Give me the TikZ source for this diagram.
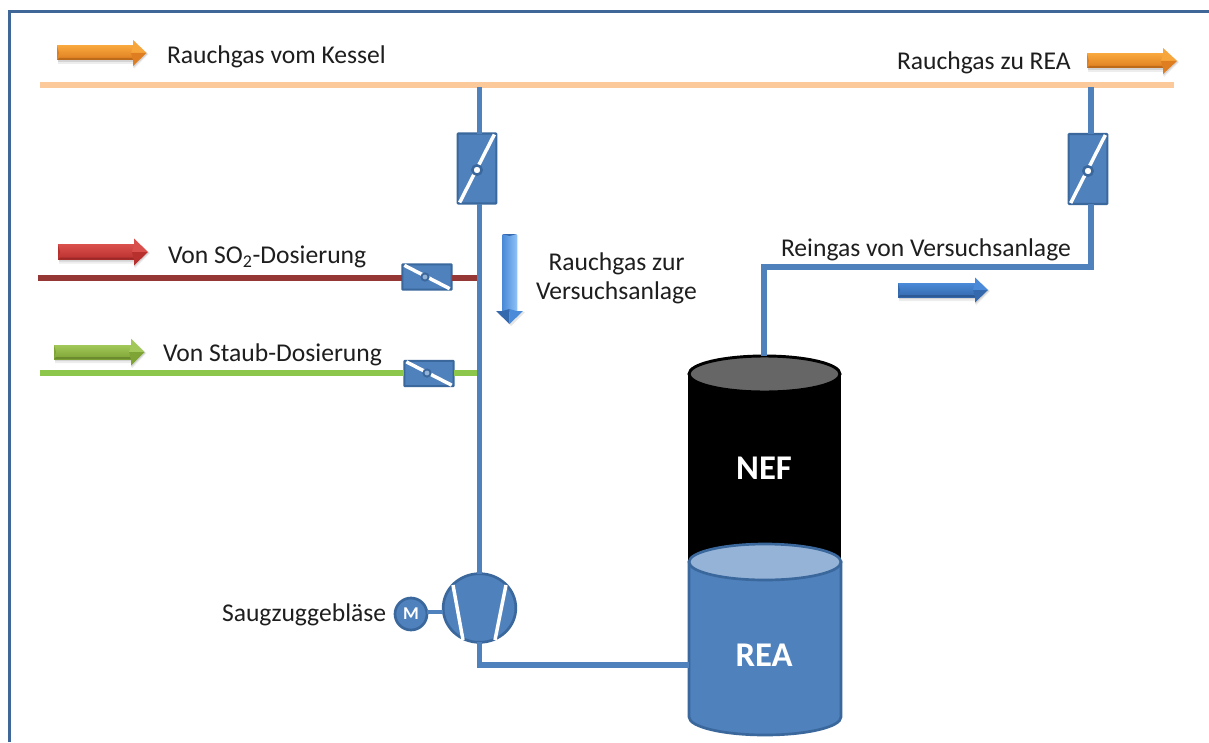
\documentclass[tikz,border=0pt]{standalone}
\usepackage{fontspec}
\setmainfont{Carlito}
\usetikzlibrary{shapes.geometric,calc}
\definecolor{pipeblue}{HTML}{4F81BD}
\definecolor{edgeblue}{HTML}{3A679C}
\definecolor{framecol}{HTML}{3F6797}
\definecolor{fluegas}{HTML}{FBC99A}
\definecolor{so2col}{HTML}{953735}
\definecolor{dustcol}{HTML}{8CC64A}
\definecolor{liqtop}{HTML}{95B3D7}
\definecolor{txt}{HTML}{1E1E1E}
\definecolor{orA}{HTML}{F7A63C}\definecolor{orB}{HTML}{FFCB66}\definecolor{orC}{HTML}{DE7E20}
\definecolor{reA}{HTML}{D94F4B}\definecolor{reB}{HTML}{F08A86}\definecolor{reC}{HTML}{B8302E}
\definecolor{grA}{HTML}{A3C85A}\definecolor{grB}{HTML}{D2EC92}\definecolor{grC}{HTML}{7EA436}
\definecolor{blA}{HTML}{4A8AD8}\definecolor{blB}{HTML}{8CC0F5}\definecolor{blC}{HTML}{3569AE}
\tikzset{
  pipe/.style={draw=pipeblue,line width=4.2pt,line join=miter},
  flueline/.style={draw=fluegas,line width=4.4pt},
  so2line/.style={draw=so2col,line width=4.1pt},
  dustline/.style={draw=dustcol,line width=4.1pt},
  damperbox/.style={draw=edgeblue,line width=1.6pt,fill=pipeblue,rounded corners=0.6pt,inner sep=0pt,outer sep=0pt},
  tallbox/.style={damperbox,minimum width=29pt,minimum height=52.5pt},
  widebox/.style={damperbox,minimum width=37pt,minimum height=19pt},
  flap/.style={draw=white,line width=2.6pt},
  pivot/.style={circle,draw=edgeblue,fill=white,line width=1.9pt,minimum size=7pt,inner sep=0pt},
  pivotsmall/.style={circle,draw=edgeblue,fill=pipeblue!60,line width=1.4pt,minimum size=5.4pt,inner sep=0pt},
  lbl/.style={text=txt,font=\fontsize{19.2}{21}\selectfont,inner sep=0pt,outer sep=0pt},
  biglbl/.style={text=white,font=\fontsize{26}{30}\selectfont\bfseries,inner sep=0pt},
  fanbody/.style={ellipse,draw=edgeblue,fill=pipeblue,line width=2pt,minimum width=54.5pt,minimum height=51.5pt,inner sep=0pt,outer sep=0pt},
  motorbody/.style={circle,draw=edgeblue,fill=pipeblue,line width=2pt,minimum size=24pt,inner sep=0pt,outer sep=0pt,text=white,font=\fontsize{13.5}{14}\selectfont\bfseries},
}
% #1 x-start, #2 x-head, #3 x-tip, #4 y-centre, #5 half shaft, #6 half head, #7 edge, #8 light, #9 dark
\newcommand{\bevelright}[9]{%
  \fill[black,opacity=.07] (#1+1,#4-#5+1) -- (#2+1,#4-#5+1) -- (#2+1,#4-#6+1) -- (#3+2,#4+1) -- (#2+1,#4+#6+3) -- (#2+1,#4+#5+4) -- (#1+1,#4+#5+4) -- cycle;
  \fill[black,opacity=.1] (#1+1,#4-#5+1) -- (#2,#4-#5+1) -- (#2,#4-#6+1) -- (#3+1,#4+1) -- (#2,#4+#6+2) -- (#2,#4+#5+2) -- (#1+1,#4+#5+2) -- cycle;
  \shade[top color=#7,middle color=#8,bottom color=#9] (#1,#4-#5) -- (#2,#4-#5) -- (#2,#4+#5) -- (#1,#4+#5) -- cycle;
  \fill[#7] (#2,#4-#6) -- (#3,#4) -- (#2-2,#4) -- (#2,#4-#5) -- cycle;
  \fill[#9] (#2,#4+#6) -- (#3,#4) -- (#2-2,#4) -- (#2,#4+#5) -- cycle;
  \fill[#9] (#1,#4-#5) -- (#1+2,#4) -- (#1,#4+#5) -- cycle;
  \fill[#9!85!black] (#1,#4+#5) -- (#1+2,#4+#5-2) -- (#2-1,#4+#5-2) -- (#2,#4+#5) -- cycle;
}
\begin{document}
\begin{tikzpicture}[x=0.75pt,y=-0.75pt]
\useasboundingbox (0,0) rectangle (1209,742);
\fill[white] (0,0) rectangle (1209,742);
% frame
\coordinate (frameA) at (9.5,742);
\coordinate (frameB) at (9.5,11.5);
\coordinate (frameC) at (1209,11.5);
\draw[framecol,line width=2.7pt] (frameA) -- (frameB) -- (frameC);

% flue gas main
\coordinate (flueW) at (40,85);
\coordinate (flueE) at (1174,85);
\draw[flueline] (flueW) -- (flueE);

% dampers
\node[tallbox] (dampA) at (477,168.5) {};
\node[tallbox] (dampB) at (1088,169) {};
\node[widebox] (dampC) at (427,277) {};
\node[widebox] (dampD) at (429,373.5) {};
\draw[flap] (dampA.south west) ++(2,-1) -- ($(dampA.north east)+(-2,1)$);
\draw[flap] (dampB.south west) ++(2,-1) -- ($(dampB.north east)+(-2,1)$);
\draw[flap] (dampC.north west) ++(2,1) -- ($(dampC.south east)+(-2,-1)$);
\draw[flap] (dampD.north west) ++(2,1) -- ($(dampD.south east)+(-2,-1)$);
\node[pivot] (pivA) at (477,170) {};
\node[pivot] (pivB) at (1088,171) {};
\node[pivotsmall] (pivC) at (425,277) {};
\node[pivotsmall] (pivD) at (427,373) {};

% fan and motor
\node[fanbody] (fan) at (479.5,608) {};
\draw[white,line width=2.6pt] (453,585) -- (463,640);
\draw[white,line width=2.6pt] (506,585) -- (495,640);
\node[motorbody] (motor) at (411,614) {M};

% vessels
\coordinate (nefTop) at (764,356);
\coordinate (reaSide) at (689,665);
\fill[black] (688,374) rectangle (841,562);
\draw[black,line width=2.2pt,fill=black!60] (764.5,374) ellipse[x radius=75.5,y radius=18];
\draw[edgeblue,line width=2pt,fill=pipeblue] (689,562) -- (689,717) arc[x radius=76,y radius=18,start angle=180,end angle=0] -- (841,562) -- cycle;
\draw[edgeblue,line width=2pt,fill=liqtop] (765,562) ellipse[x radius=76,y radius=18];
\node[biglbl] (nefLabel) at (764,468) {NEF};
\node[biglbl] (reaLabel) at (764,655) {REA};

% pipes
\coordinate (tapA) at (479.5,87);
\coordinate (tapB) at (1091,87);
\coordinate (elbowA) at (479.5,665);
\coordinate (elbowB) at (1091,267);
\coordinate (elbowC) at (764,267);
\coordinate (mergeC) at (479.5,278);
\coordinate (mergeD) at (479.5,373);
\coordinate (so2W) at (38,278);
\coordinate (dustW) at (40,373);
\draw[so2line] (so2W) -- (so2W -| dampC.west);
\draw[so2line] (so2W -| dampC.east) -- (mergeC);
\draw[dustline] (dustW) -- (dustW -| dampD.west);
\draw[dustline] (dustW -| dampD.east) -- (mergeD);
\draw[pipe] (tapA) -- (tapA |- dampA.north);
\draw[pipe] (tapA |- dampA.south) -- (tapA |- fan.north);
\draw[pipe] (tapA |- fan.south) -- (elbowA) -- (reaSide);
\draw[pipe] (tapB) -- (tapB |- dampB.north);
\draw[pipe] (tapB |- dampB.south) -- (elbowB) -- (elbowC) -- (nefTop);
\draw[pipe,line width=3pt] (motor.east |- 0,612) -- (fan.west |- 0,612);

% direction arrows
\bevelright{57}{133}{146.5}{53}{7}{13}{orA}{orB}{orC}
\bevelright{1087}{1163}{1177}{61}{7}{13}{orA}{orB}{orC}
\bevelright{58}{134}{148}{252}{7.5}{13.5}{reA}{reB}{reC}
\bevelright{54}{131}{144.5}{352}{7}{13.5}{grA}{grB}{grC}
\bevelright{898}{975}{988}{290}{7}{12.5}{blA}{blB}{blC}
% downward arrow
\fill[black,opacity=.1] (504,235) -- (518,235) -- (518,312) -- (525,312) -- (511,326) -- (498,312) -- (504,312) -- cycle;
\shade[left color=blA,right color=blB] (502.5,234) -- (516.5,234) -- (516.5,311) -- (502.5,311) -- cycle;
\fill[blC] (496,311) -- (509.5,324) -- (509.5,309) -- (502.5,311) -- cycle;
\fill[blA] (523,311) -- (509.5,324) -- (509.5,309) -- (516.5,311) -- cycle;
\fill[blC] (502.5,234) -- (516.5,234) -- (509.5,236) -- cycle;

% labels
\node[lbl,anchor=west] (t1) at (167,57) {Rauchgas vom Kessel};
\node[lbl,anchor=west] (t2) at (897,63) {Rauchgas zu REA};
\node[lbl,anchor=west] (t3) at (168,257) {Von SO\textsubscript{2}-Dosierung};
\node[lbl,anchor=west] (t4) at (163,355) {Von Staub-Dosierung};
\node[lbl,align=center,anchor=center,font=\fontsize{19.2}{21.8}\selectfont] (t5) at (616.5,278) {Rauchgas zur\\Versuchsanlage};
\node[lbl,anchor=west] (t6) at (781,250) {Reingas von Versuchsanlage};
\node[lbl,anchor=west] (t7) at (222,615) {Saugzuggebläse};
\end{tikzpicture}
\end{document}
